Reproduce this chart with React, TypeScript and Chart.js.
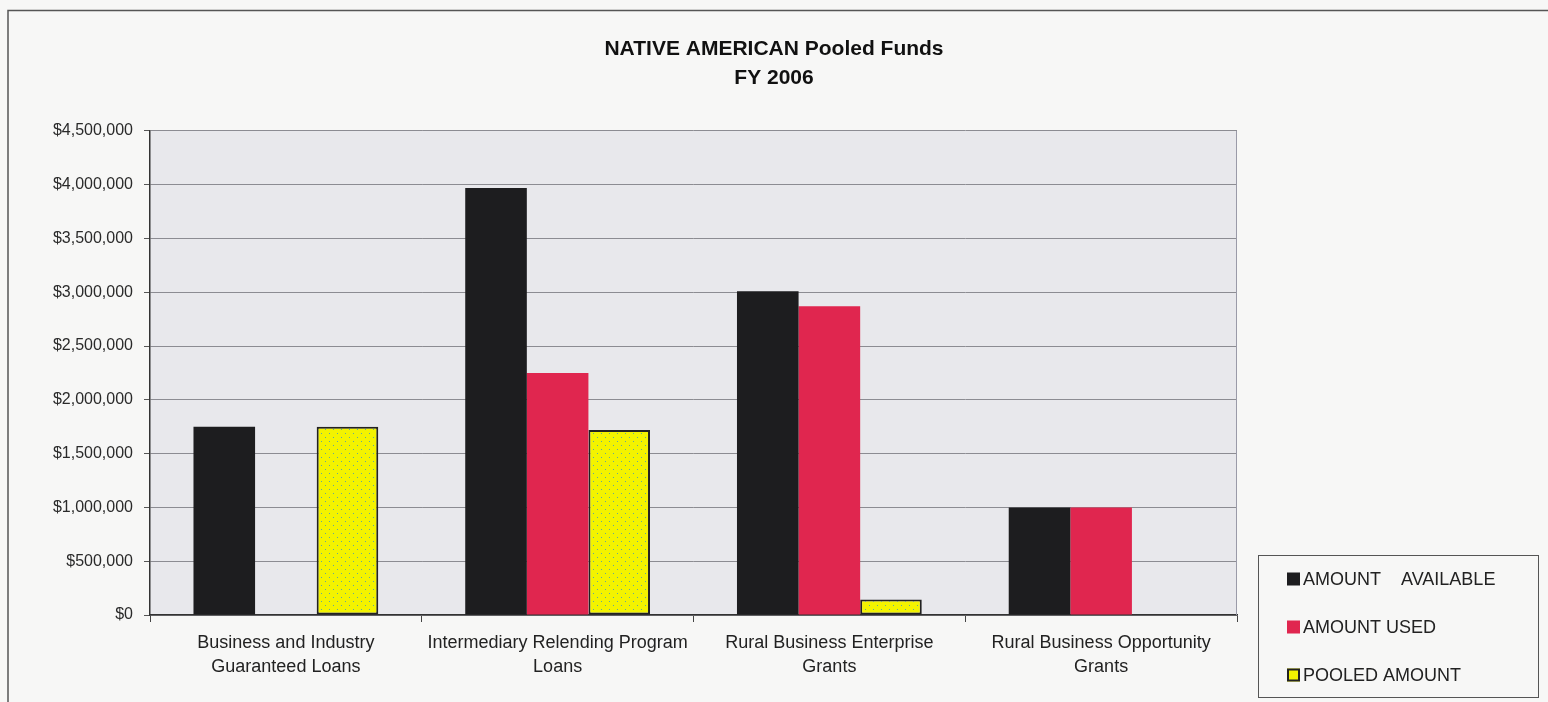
import { useEffect, useRef } from 'react';
import { Chart, registerables } from 'chart.js';

Chart.register(...registerables);

// ---- data ----
const categories: string[][] = [
  ['Business and Industry', 'Guaranteed Loans'],
  ['Intermediary Relending Program', 'Loans'],
  ['Rural Business Enterprise', 'Grants'],
  ['Rural Business Opportunity', 'Grants'],
];
const amountAvailable = [1750000, 3970000, 3010000, 1000000];
const amountUsed = [0, 2250000, 2870000, 1000000];
const pooledAmount = [1750000, 1720000, 145000, 0];
const seriesLabels = ['AMOUNT    AVAILABLE', 'AMOUNT USED', 'POOLED AMOUNT'];
const titleLines = ['NATIVE AMERICAN Pooled Funds', 'FY 2006'];
const yMin = 0;
const yMax = 4500000;
const yStep = 500000;

const FONT = "'Liberation Sans', Arial, Helvetica, sans-serif";
const BLACK = '#1d1d1f';
const RED = '#e0264f';
const YELLOW = '#f3f300';

function makeDotPattern(): CanvasPattern | string {
  const c = document.createElement('canvas');
  c.width = 8;
  c.height = 8;
  const g = c.getContext('2d');
  if (!g) return YELLOW;
  g.fillStyle = YELLOW;
  g.fillRect(0, 0, 8, 8);
  g.fillStyle = '#5fa89a';
  g.fillRect(1, 1, 1, 1);
  g.fillRect(5, 5, 1, 1);
  const p = g.createPattern(c, 'repeat');
  return p || YELLOW;
}

const decorPlugin = {
  id: 'decor',
  beforeDraw(chart: any) {
    const { ctx, chartArea, width, height } = chart;
    ctx.save();
    ctx.fillStyle = '#f7f7f6';
    ctx.fillRect(0, 0, width, height);
    // outer frame (top + left)
    ctx.strokeStyle = '#555';
    ctx.lineWidth = 1.5;
    ctx.beginPath();
    ctx.moveTo(8, height);
    ctx.lineTo(8, 10.5);
    ctx.lineTo(width, 10.5);
    ctx.stroke();
    // plot background
    ctx.fillStyle = '#e8e8ec';
    ctx.fillRect(chartArea.left, chartArea.top, chartArea.right - chartArea.left, chartArea.bottom - chartArea.top);
    ctx.restore();
  },
  afterDatasetsDraw(chart: any) {
    const { ctx, chartArea } = chart;
    ctx.save();
    ctx.strokeStyle = '#9a9aa8';
    ctx.lineWidth = 1;
    ctx.beginPath();
    ctx.moveTo(chartArea.right - 0.5, chartArea.top);
    ctx.lineTo(chartArea.right - 0.5, chartArea.bottom);
    ctx.stroke();
    ctx.restore();
  },
  afterDraw(chart: any) {
    const { ctx, chartArea } = chart;
    const left = chartArea.right + 21;
    const top = chartArea.bottom - 60;
    const w = 280;
    const h = 142;
    ctx.save();
    ctx.strokeStyle = '#555';
    ctx.lineWidth = 1;
    ctx.strokeRect(left + 0.5, top + 0.5, w, h);
    ctx.font = `18px ${FONT}`;
    ctx.textBaseline = 'middle';
    ctx.textAlign = 'left';
    chart.data.datasets.forEach((ds: any, i: number) => {
      const cy = top + 24 + i * 48;
      const sx = left + 29;
      const size = 13;
      ctx.fillStyle = ds.legendColor;
      ctx.fillRect(sx, cy - size / 2, size, size);
      if (ds.borderWidth) {
        ctx.strokeStyle = '#222';
        ctx.lineWidth = 2;
        ctx.strokeRect(sx + 1, cy - size / 2 + 1, size - 2, size - 2);
      }
      ctx.fillStyle = '#222';
      ctx.fillText(ds.label, sx + size + 3, cy + 1);
    });
    ctx.restore();
  },
};

export default function App() {
  const ref = useRef<HTMLCanvasElement | null>(null);

  useEffect(() => {
    if (!ref.current) return;
    const pattern = makeDotPattern();
    const chart = new Chart(ref.current, {
      type: 'bar',
      data: {
        labels: categories,
        datasets: [
          {
            label: seriesLabels[0],
            data: amountAvailable,
            backgroundColor: BLACK,
            borderWidth: 0,
            legendColor: BLACK,
          } as any,
          {
            label: seriesLabels[1],
            data: amountUsed,
            backgroundColor: RED,
            borderWidth: 0,
            legendColor: RED,
          } as any,
          {
            label: seriesLabels[2],
            data: pooledAmount,
            backgroundColor: pattern,
            borderColor: '#222',
            borderWidth: 2,
            legendColor: YELLOW,
          } as any,
        ],
      },
      options: {
        responsive: false,
        animation: false,
        layout: { padding: { top: 20, right: 0, left: 0, bottom: 0 } },
        datasets: {
          bar: { categoryPercentage: 0.68, barPercentage: 1.0, borderSkipped: false } as any,
        },
        plugins: {
          legend: { display: false },
          tooltip: { enabled: false },
          title: {
            display: true,
            text: titleLines,
            color: '#111',
            font: { family: FONT, size: 21, weight: 'bold', lineHeight: 1.38 },
            padding: { top: 14.5, bottom: 38.5 },
          },
        },
        scales: {
          x: {
            grid: {
              drawOnChartArea: false,
              drawTicks: true,
              tickLength: 7,
              color: '#444',
              offset: true,
            },
            border: { display: true, color: '#333', width: 1.5 },
            ticks: {
              color: '#222',
              font: { family: FONT, size: 18, lineHeight: 1.333 },
              padding: 9,
              maxRotation: 0,
              autoSkip: false,
            },
            afterFit: (s: any) => {
              s.height = 87;
            },
          },
          y: {
            min: yMin,
            max: yMax,
            ticks: {
              stepSize: yStep,
              color: '#2a2a2a',
              font: { family: FONT, size: 16 },
              padding: 11,
              callback: (v: any) => '$' + Number(v).toLocaleString('en-US'),
            },
            grid: {
              color: '#8c8c92',
              lineWidth: 1,
              tickLength: 6,
              tickColor: '#555',
            },
            border: { display: true, color: '#333', width: 1.5 },
            afterFit: (s: any) => {
              s.width = 150;
            },
          },
          yRight: {
            position: 'right',
            display: true,
            min: yMin,
            max: yMax,
            grid: { drawOnChartArea: false, drawTicks: false },
            border: { display: false },
            ticks: { display: false },
            afterFit: (s: any) => {
              s.width = 311;
            },
          },
        },
      },
      plugins: [decorPlugin],
    });
    return () => chart.destroy();
  }, []);

  return (
    <div style={{ position: 'fixed', left: 0, top: 0, width: 1548, height: 702, background: '#f7f7f6' }}>
      <canvas ref={ref} width={1548} height={702} style={{ display: 'block' }} />
    </div>
  );
}
